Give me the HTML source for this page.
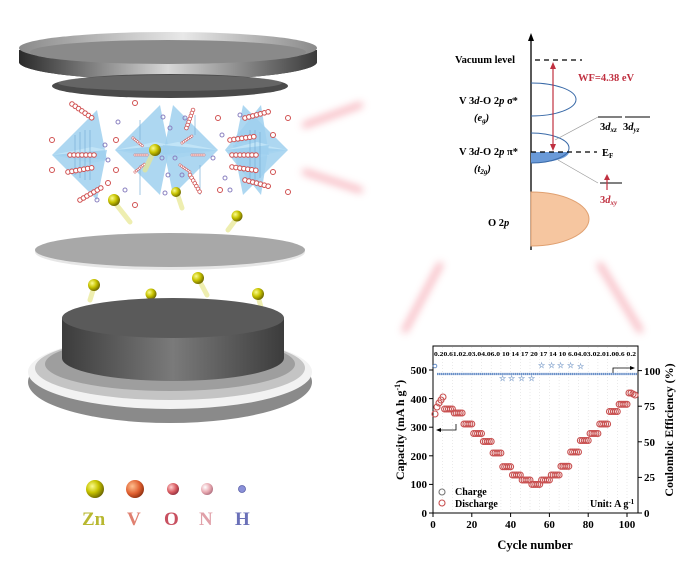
<!DOCTYPE html>
<html><head><meta charset="utf-8"><style>
html,body{margin:0;padding:0;background:#fff}
svg{display:block}
text{font-family:"Liberation Serif",serif;font-weight:bold}
</style></head><body>
<svg width="700" height="566" viewBox="0 0 700 566" xmlns="http://www.w3.org/2000/svg">
<defs>
<linearGradient id="side" x1="0" x2="1"><stop offset="0" stop-color="#2a2a2a"/><stop offset=".5" stop-color="#d8d8d8"/><stop offset="1" stop-color="#3a3a3a"/></linearGradient>
<linearGradient id="top" x1="0" x2="1"><stop offset="0" stop-color="#8a8a8a"/><stop offset=".55" stop-color="#e8e8e8"/><stop offset="1" stop-color="#8a8a8a"/></linearGradient>
<linearGradient id="cyl" x1="0" x2="1"><stop offset="0" stop-color="#3c3c3c"/><stop offset=".5" stop-color="#7a7a7a"/><stop offset="1" stop-color="#3c3c3c"/></linearGradient>
<radialGradient id="zn" cx=".35" cy=".35" r=".7"><stop offset="0" stop-color="#fbfb90"/><stop offset=".5" stop-color="#c8c400"/><stop offset="1" stop-color="#6a6400"/></radialGradient>
<radialGradient id="vb" cx=".35" cy=".35" r=".7"><stop offset="0" stop-color="#ffc090"/><stop offset=".6" stop-color="#e06030"/><stop offset="1" stop-color="#903010"/></radialGradient>
<radialGradient id="ob" cx=".35" cy=".35" r=".7"><stop offset="0" stop-color="#ffd0d0"/><stop offset=".6" stop-color="#d85a60"/><stop offset="1" stop-color="#903040"/></radialGradient>
<radialGradient id="nb" cx=".35" cy=".35" r=".7"><stop offset="0" stop-color="#fff"/><stop offset=".6" stop-color="#e8a8b0"/><stop offset="1" stop-color="#b07080"/></radialGradient>
<filter id="bl"><feGaussianBlur stdDeviation="4"/></filter>
<g id="g5" fill="none" stroke="#c85050" stroke-width="1.1"><circle cx="0" cy="0" r="3"/><circle cx="1.94" cy="0" r="3"/><circle cx="3.88" cy="0" r="3"/><circle cx="5.82" cy="0" r="3"/><circle cx="7.76" cy="0" r="3"/></g>
<g id="poly"><polygon points="0,0 45,-45 55,5" fill="#9fd0ee" opacity=".85"/><polygon points="0,0 40,8 55,5" fill="#c4e6f8" opacity=".85"/></g>
<g id="chain" fill="#fff" stroke="#d05050" stroke-width="1"><circle cx="0" cy="0" r="2.3"/><circle cx="4" cy="0" r="2.3"/><circle cx="8" cy="0" r="2.3"/><circle cx="12" cy="0" r="2.3"/><circle cx="16" cy="0" r="2.3"/><circle cx="20" cy="0" r="2.3"/><circle cx="24" cy="0" r="2.3"/></g>
</defs>

<g filter="url(#bl)" opacity=".5" stroke="#f07080" stroke-width="6" stroke-linecap="round">
<line x1="305" y1="125" x2="360" y2="105"/><line x1="305" y1="172" x2="360" y2="190"/>
<line x1="405" y1="330" x2="440" y2="265"/><line x1="640" y1="330" x2="600" y2="265"/>
</g>

<!-- top cap -->
<ellipse cx="168" cy="62" rx="149" ry="18" fill="#3a3a3a"/>
<path d="M19,50 L19,62 A149,18 0 0 0 317,62 L317,50 Z" fill="url(#side)"/>
<ellipse cx="168" cy="48" rx="149" ry="16" fill="url(#top)"/>
<ellipse cx="168" cy="52" rx="138" ry="12" fill="#8a8a8a"/>
<ellipse cx="170" cy="86" rx="118" ry="12" fill="#4a4a4a"/>
<ellipse cx="170" cy="83" rx="112" ry="8" fill="#707070" opacity=".7"/>

<!-- crystal -->
<g>
<use href="#poly" transform="translate(52,155)"/><use href="#poly" transform="translate(52,155) scale(1,-1)"/>
<use href="#poly" transform="translate(115,150)"/><use href="#poly" transform="translate(115,150) scale(1,-1)"/>
<use href="#poly" transform="translate(218,150) scale(-1,1)"/><use href="#poly" transform="translate(218,150) scale(-1,-1)"/>
<use href="#poly" transform="translate(288,150) scale(-1,1)"/><use href="#poly" transform="translate(288,150) scale(-1,-1)"/>
<use href="#poly" transform="translate(225,150) scale(.8,1)"/><use href="#poly" transform="translate(225,150) scale(.8,-1)"/>
<g stroke="#7ab0d8" stroke-width="1" opacity=".7">
<line x1="75" y1="135" x2="75" y2="175"/><line x1="80" y1="132" x2="80" y2="178"/><line x1="85" y1="130" x2="85" y2="180"/><line x1="90" y1="130" x2="90" y2="180"/>
<line x1="250" y1="130" x2="250" y2="180"/><line x1="255" y1="130" x2="255" y2="180"/><line x1="260" y1="132" x2="260" y2="178"/>
<line x1="195" y1="115" x2="195" y2="135"/><line x1="200" y1="165" x2="200" y2="195"/><line x1="140" y1="120" x2="140" y2="140"/><line x1="140" y1="165" x2="140" y2="195"/>
</g>
<use href="#chain" transform="translate(70,155)"/><use href="#chain" transform="translate(68,172) rotate(-10)"/><use href="#chain" transform="translate(72,104) rotate(35)"/><use href="#chain" transform="translate(80,200) rotate(-30)"/>
<use href="#chain" transform="translate(230,140) rotate(-8)"/><use href="#chain" transform="translate(232,155)"/><use href="#chain" transform="translate(232,167) rotate(8)"/><use href="#chain" transform="translate(245,180) rotate(15)"/><use href="#chain" transform="translate(245,118) rotate(-15)"/>
<use href="#chain" transform="translate(193,110) rotate(110) scale(.8)"/><use href="#chain" transform="translate(190,175) rotate(60) scale(.8)"/><use href="#chain" transform="translate(133,138) rotate(40) scale(.5)"/><use href="#chain" transform="translate(135,172) rotate(-40) scale(.5)"/><use href="#chain" transform="translate(182,143) rotate(-35) scale(.5)"/><use href="#chain" transform="translate(180,165) rotate(35) scale(.5)"/><use href="#chain" transform="translate(135,155) scale(.5)"/><use href="#chain" transform="translate(192,155) scale(.5)"/>
<g fill="#fff" stroke="#d05050" stroke-width="1">
<circle cx="52" cy="140" r="2.5"/><circle cx="52" cy="170" r="2.5"/><circle cx="108" cy="183" r="2.5"/>
<circle cx="116" cy="140" r="2.5"/><circle cx="116" cy="170" r="2.5"/><circle cx="135" cy="103" r="2.5"/><circle cx="135" cy="205" r="2.5"/>
<circle cx="218" cy="118" r="2.5"/><circle cx="220" cy="190" r="2.5"/>
<circle cx="288" cy="118" r="2.5"/><circle cx="288" cy="192" r="2.5"/><circle cx="273" cy="135" r="2.5"/><circle cx="273" cy="172" r="2.5"/>
</g>
<g fill="none" stroke="#8a80c0" stroke-width="1">
<circle cx="118" cy="122" r="2"/><circle cx="163" cy="117" r="2"/><circle cx="170" cy="128" r="2"/><circle cx="185" cy="118" r="2"/><circle cx="105" cy="145" r="2"/><circle cx="108" cy="160" r="2"/>
<circle cx="162" cy="158" r="2"/><circle cx="175" cy="158" r="2"/><circle cx="168" cy="175" r="2"/><circle cx="182" cy="175" r="2"/><circle cx="125" cy="190" r="2"/><circle cx="165" cy="193" r="2"/>
<circle cx="222" cy="135" r="2"/><circle cx="213" cy="158" r="2"/><circle cx="225" cy="178" r="2"/><circle cx="240" cy="115" r="2"/><circle cx="97" cy="200" r="2"/><circle cx="230" cy="190" r="2"/>
</g>
</g>
<g stroke="#e8e890" stroke-width="5" opacity=".7" stroke-linecap="round">
<line x1="153" y1="153" x2="145" y2="170"/><line x1="115" y1="203" x2="130" y2="222"/><line x1="177" y1="193" x2="182" y2="208"/><line x1="237" y1="218" x2="228" y2="230"/>
<line x1="94" y1="287" x2="90" y2="300"/><line x1="150" y1="296" x2="143" y2="310"/><line x1="199" y1="280" x2="207" y2="295"/><line x1="258" y1="296" x2="263" y2="315"/>
</g>
<g fill="url(#zn)">
<circle cx="155" cy="150" r="6"/><circle cx="114" cy="200" r="6"/><circle cx="176" cy="192" r="5"/><circle cx="237" cy="216" r="5.5"/>
<circle cx="94" cy="285" r="6"/><circle cx="151" cy="294" r="5.5"/><circle cx="198" cy="278" r="6"/><circle cx="258" cy="294" r="6"/>
</g>

<ellipse cx="170" cy="252" rx="135" ry="18" fill="#e6e6e6"/>
<ellipse cx="170" cy="250" rx="135" ry="17" fill="#a8a8a8"/>

<ellipse cx="170" cy="382" rx="142" ry="41" fill="#8a8a8a"/>
<ellipse cx="170" cy="372" rx="142" ry="37" fill="#f2f2f2"/>
<ellipse cx="170" cy="368" rx="135" ry="32" fill="#c4c4c4"/>
<ellipse cx="170" cy="364" rx="125" ry="27" fill="#9e9e9e"/>
<path d="M62,318 L62,358 A111,23 0 0 0 284,358 L284,318 Z" fill="url(#cyl)"/>
<ellipse cx="173" cy="318" rx="111" ry="20" fill="#5a5a5a"/>

<circle cx="95" cy="489" r="9" fill="url(#zn)"/>
<circle cx="135" cy="489" r="9" fill="url(#vb)"/>
<circle cx="173" cy="489" r="6" fill="url(#ob)"/>
<circle cx="207" cy="489" r="6" fill="url(#nb)"/>
<circle cx="242" cy="489" r="3.5" fill="#8a90d8" stroke="#5a60a8" stroke-width=".8"/>
<g font-size="19">
<text x="82" y="525" fill="#b8b830">Zn</text>
<text x="127" y="525" fill="#e08070">V</text>
<text x="164" y="525" fill="#c85060">O</text>
<text x="199" y="525" fill="#e0a0a8">N</text>
<text x="235" y="525" fill="#6a70b8">H</text>
</g>

<!-- energy diagram -->
<line x1="531" y1="250" x2="531" y2="40" stroke="#000" stroke-width="1.3"/>
<polygon points="531,33 528,41 534,41"/>
<path d="M531,83 A45,16.5 0 0 1 531,116" fill="none" stroke="#3a6aa8" stroke-width="1"/>
<path d="M531,192 A58,27 0 0 1 531,246 Z" fill="#f6c6a0" stroke="#e0a070" stroke-width="1"/>
<path d="M531,152 L569,152 A38,11 0 0 1 531,163 Z" fill="#6a9ad8"/>
<path d="M531,133 A38,15 0 0 1 531,163" fill="none" stroke="#3a6aa8" stroke-width="1"/>
<line x1="535" y1="60" x2="582" y2="60" stroke="#000" stroke-dasharray="5,4" stroke-width="1.2"/>
<line x1="531" y1="152" x2="597" y2="152" stroke="#000" stroke-dasharray="5,4" stroke-width="1.2"/>
<line x1="553" y1="66" x2="553" y2="147" stroke="#c03040" stroke-width="1.2"/>
<polygon points="553,62 550,69 556,69" fill="#c03040"/><polygon points="553,151 550,144 556,144" fill="#c03040"/>
<line x1="555" y1="140" x2="598" y2="117" stroke="#999" stroke-width=".7"/>
<line x1="558" y1="160" x2="598" y2="183" stroke="#999" stroke-width=".7"/>
<line x1="598" y1="117" x2="622" y2="117" stroke="#000"/><line x1="625" y1="117" x2="650" y2="117" stroke="#000"/>
<line x1="600" y1="183" x2="622" y2="183" stroke="#000"/>
<line x1="607" y1="190" x2="607" y2="178" stroke="#c03040" stroke-width="1.2"/><polygon points="607,174 604,180 610,180" fill="#c03040"/>
<g font-size="10.5">
<text x="455" y="63">Vacuum level</text>
<text x="578" y="81" fill="#c03040">WF=4.38 eV</text>
<text x="459" y="104">V 3<tspan font-style="italic">d</tspan>-O 2<tspan font-style="italic">p</tspan> σ*</text>
<text x="474" y="121" font-style="italic">(e<tspan font-size="7" dy="2">g</tspan><tspan dy="-2">)</tspan></text>
<text x="459" y="155">V 3<tspan font-style="italic">d</tspan>-O 2<tspan font-style="italic">p</tspan> π*</text>
<text x="474" y="172" font-style="italic">(t<tspan font-size="7" dy="2">2g</tspan><tspan dy="-2">)</tspan></text>
<text x="600" y="130">3<tspan font-style="italic">d</tspan><tspan font-size="7" dy="2" font-style="italic">xz</tspan></text>
<text x="623" y="130">3<tspan font-style="italic">d</tspan><tspan font-size="7" dy="2" font-style="italic">yz</tspan></text>
<text x="602" y="156">E<tspan font-size="7" dy="2">F</tspan></text>
<text x="600" y="203" fill="#c03040">3<tspan font-style="italic">d</tspan><tspan font-size="7" dy="2" font-style="italic">xy</tspan></text>
<text x="488" y="226">O 2<tspan font-style="italic">p</tspan></text>
</g>

<!-- chart -->
<g stroke="#ddd" stroke-width=".6" stroke-dasharray="1,2">
<line x1="442.7" y1="347" x2="442.7" y2="512"/><line x1="452.4" y1="347" x2="452.4" y2="512"/><line x1="462.1" y1="347" x2="462.1" y2="512"/><line x1="471.8" y1="347" x2="471.8" y2="512"/><line x1="481.5" y1="347" x2="481.5" y2="512"/><line x1="491.2" y1="347" x2="491.2" y2="512"/><line x1="500.9" y1="347" x2="500.9" y2="512"/><line x1="510.6" y1="347" x2="510.6" y2="512"/><line x1="520.3" y1="347" x2="520.3" y2="512"/><line x1="530" y1="347" x2="530" y2="512"/><line x1="539.7" y1="347" x2="539.7" y2="512"/><line x1="549.4" y1="347" x2="549.4" y2="512"/><line x1="559.1" y1="347" x2="559.1" y2="512"/><line x1="568.8" y1="347" x2="568.8" y2="512"/><line x1="578.5" y1="347" x2="578.5" y2="512"/><line x1="588.2" y1="347" x2="588.2" y2="512"/><line x1="597.9" y1="347" x2="597.9" y2="512"/><line x1="607.6" y1="347" x2="607.6" y2="512"/><line x1="617.3" y1="347" x2="617.3" y2="512"/><line x1="627" y1="347" x2="627" y2="512"/>
</g>
<rect x="433" y="346" width="205" height="167" fill="none" stroke="#000" stroke-width="1"/>
<g stroke="#000" stroke-width="1">
<line x1="429" y1="513" x2="433" y2="513"/><line x1="429" y1="484.4" x2="433" y2="484.4"/><line x1="429" y1="455.8" x2="433" y2="455.8"/><line x1="429" y1="427.2" x2="433" y2="427.2"/><line x1="429" y1="398.6" x2="433" y2="398.6"/><line x1="429" y1="370" x2="433" y2="370"/>
<line x1="638" y1="513" x2="642" y2="513"/><line x1="638" y1="477.4" x2="642" y2="477.4"/><line x1="638" y1="441.8" x2="642" y2="441.8"/><line x1="638" y1="406.2" x2="642" y2="406.2"/><line x1="638" y1="370.6" x2="642" y2="370.6"/>
<line x1="433" y1="513" x2="433" y2="517"/><line x1="471.8" y1="513" x2="471.8" y2="517"/><line x1="510.6" y1="513" x2="510.6" y2="517"/><line x1="549.4" y1="513" x2="549.4" y2="517"/><line x1="588.2" y1="513" x2="588.2" y2="517"/><line x1="627" y1="513" x2="627" y2="517"/>
</g>
<g font-size="11" text-anchor="end">
<text x="427" y="517">0</text><text x="427" y="488">100</text><text x="427" y="460">200</text><text x="427" y="431">300</text><text x="427" y="403">400</text><text x="427" y="374">500</text>
</g>
<g font-size="11">
<text x="644" y="517">0</text><text x="644" y="481">25</text><text x="644" y="446">50</text><text x="644" y="410">75</text><text x="644" y="375">100</text>
</g>
<g font-size="11" text-anchor="middle">
<text x="433" y="528">0</text><text x="471.8" y="528">20</text><text x="510.6" y="528">40</text><text x="549.4" y="528">60</text><text x="588.2" y="528">80</text><text x="627" y="528">100</text>
</g>
<text x="535" y="549" font-size="12.5" text-anchor="middle">Cycle number</text>
<text transform="translate(404,430) rotate(-90)" font-size="12" text-anchor="middle">Capacity (mA h g<tspan font-size="8" dy="-4">-1</tspan><tspan dy="4">)</tspan></text>
<text transform="translate(673,430) rotate(-90)" font-size="12" text-anchor="middle">Coulombic Efficiency (%)</text>
<text x="434" y="356" font-size="6.6" textLength="202" lengthAdjust="spacingAndGlyphs">0.20.61.02.03.04.06.0 10 14 17 20 17 14 10 6.04.03.02.01.00.6 0.2</text>
<path d="M456,424 L456,430 L438,430" fill="none" stroke="#000" stroke-width=".8"/><polygon points="436,430 441,428 441,432"/>
<path d="M613,375 L613,368 L632,368" fill="none" stroke="#000" stroke-width=".8"/><polygon points="635,368 630,366 630,370"/>
<line x1="437" y1="374" x2="637" y2="374" stroke="#6a90c8" stroke-width="2.2" stroke-dasharray="1.5,0.45"/>
<circle cx="435" cy="366" r="1.8" fill="none" stroke="#6a90c8"/>
<g fill="#8aa8d0" font-size="8" font-weight="normal">
<text x="499" y="381">☆</text><text x="508" y="381">☆</text><text x="518" y="381">☆</text><text x="528" y="381">☆</text>
<text x="538" y="368">☆</text><text x="548" y="368">☆</text><text x="557" y="368">☆</text><text x="567" y="368">☆</text><text x="577" y="369">☆</text>
</g>
<g fill="none" stroke="#c85050" stroke-width="1.1">
<circle cx="435" cy="414" r="3"/><circle cx="437" cy="407" r="3"/><circle cx="439" cy="403" r="3"/><circle cx="441" cy="400" r="3"/><circle cx="443" cy="397" r="3"/>
</g>
<use href="#g5" x="444.6" y="409"/><use href="#g5" x="454.3" y="413"/><use href="#g5" x="464" y="424"/><use href="#g5" x="473.7" y="433.5"/><use href="#g5" x="483.4" y="441.5"/>
<use href="#g5" x="493.1" y="453"/><use href="#g5" x="502.8" y="466.7"/><use href="#g5" x="512.5" y="475"/><use href="#g5" x="522.2" y="480"/><use href="#g5" x="531.9" y="484.4"/>
<use href="#g5" x="541.6" y="480"/><use href="#g5" x="551.3" y="475"/><use href="#g5" x="561" y="466.3"/><use href="#g5" x="570.7" y="452"/><use href="#g5" x="580.4" y="440.5"/>
<use href="#g5" x="590.1" y="433.5"/><use href="#g5" x="599.8" y="424"/><use href="#g5" x="609.5" y="411.5"/><use href="#g5" x="619.2" y="404.3"/>
<g fill="none" stroke="#c85050" stroke-width="1.1"><circle cx="629" cy="393" r="3"/><circle cx="631" cy="393" r="3"/><circle cx="633" cy="394" r="3"/><circle cx="635" cy="395" r="3"/></g>
<circle cx="442" cy="492" r="3" fill="none" stroke="#777" stroke-width="1.1"/>
<text x="455" y="495" font-size="10">Charge</text>
<circle cx="442" cy="503" r="3" fill="none" stroke="#c85050" stroke-width="1.1"/>
<text x="455" y="507" font-size="10">Discharge</text>
<text x="590" y="507" font-size="10">Unit: A g<tspan font-size="7" dy="-3">-1</tspan></text>
</svg>
</body></html>
